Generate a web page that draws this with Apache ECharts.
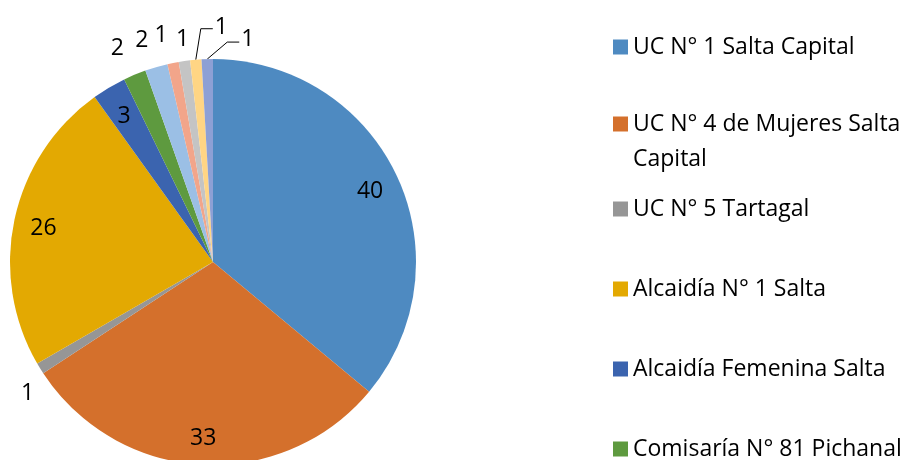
<!DOCTYPE html>
<html>
<head>
    <meta charset="UTF-8">
    <title></title>
    <style>
        html, body { margin: 0; padding: 0; background: #fff; }
        #container { width: 905px; height: 460px; }
    </style>
</head>
<body>
    <div id="container"></div>
    <script src="https://cdn.jsdelivr.net/npm/echarts@6/dist/echarts.min.js"></script>
    <script>
        // datos del gráfico
        var names = [
            'UC N° 1 Salta Capital',
            'UC N° 4 de Mujeres Salta Capital',
            'UC N° 5 Tartagal',
            'Alcaidía N° 1 Salta',
            'Alcaidía Femenina Salta',
            'Comisaría N° 81 Pichanal',
            'Otra dependencia 1',
            'Otra dependencia 2',
            'Otra dependencia 3',
            'Otra dependencia 4',
            'Otra dependencia 5'
        ];
        var values = [40, 33, 1, 26, 3, 2, 2, 1, 1, 1, 1];
        var colors = ['#4e8ac1', '#d4702c', '#969696', '#e3a902', '#3b64af', '#5e9a3f',
                      '#9bbfe5', '#f2a58a', '#c4c4c4', '#ffd584', '#8da0d5'];
        var insideIdx = [0, 1, 3, 4];     // etiquetas dentro del sector
        var lineIdx = [9, 10];            // etiquetas con línea guía
        var legendNames = names.slice(0, 6);
        var legendTops = [33, 71.5, 195, 275, 355, 435];

        var font = '"Open Sans", "Noto Sans", sans-serif';
        var myChart = echarts.init(document.getElementById('container'));

        // ajustes de posición de algunas etiquetas exteriores
        var lineLen = { 2: [47, -34], 8: [22, -8] };

        var outerData = names.map(function (n, i) {
            var showLabel = insideIdx.indexOf(i) < 0;
            var ll = { show: lineIdx.indexOf(i) >= 0 };
            if (lineLen[i]) {
                ll.length = lineLen[i][0];
                ll.length2 = lineLen[i][1];
            }
            return {
                name: n,
                value: values[i],
                itemStyle: { color: colors[i] },
                label: { show: showLabel },
                labelLine: ll
            };
        });
        var innerData = names.map(function (n, i) {
            return {
                name: n,
                value: values[i],
                label: { show: insideIdx.indexOf(i) >= 0 }
            };
        });

        var legends = legendNames.map(function (n, i) {
            var two = i === 1;
            return {
                orient: 'vertical',
                left: 613,
                top: legendTops[i],
                padding: 0,
                itemWidth: 15,
                itemHeight: 15,
                icon: 'rect',
                selectedMode: false,
                data: [n],
                formatter: function (name) {
                    // linea vacía arriba para que el icono quede junto a la primera línea
                    return two ? ' \nUC N° 4 de Mujeres Salta\nCapital' : name;
                },
                textStyle: {
                    fontFamily: font, fontSize: 23, color: '#000',
                    lineHeight: two ? 35 : 28
                }
            };
        });

        myChart.setOption({
            animation: false,
            legend: legends,
            series: [
                {
                    type: 'pie',
                    center: [213, 262],
                    radius: 203,
                    startAngle: 90,
                    clockwise: true,
                    avoidLabelOverlap: false,
                    itemStyle: { borderWidth: 0 },
                    label: {
                        position: 'outside',
                        formatter: '{c}',
                        fontFamily: font,
                        fontSize: 23,
                        color: '#000',
                        distanceToLabelLine: 0
                    },
                    labelLine: {
                        length: 28,
                        length2: 0,
                        lineStyle: { color: '#000', width: 1 }
                    },
                    labelLayout: function (p) {
                        var k = lineIdx.indexOf(p.dataIndex);
                        if (k < 0 || !p.labelLinePoints) return {};
                        var s = p.labelLinePoints[0];
                        var ex = s[0] + (k ? 20 : 5);
                        var ey = s[1] - (k ? 17 : 31);
                        return {
                            x: ex + 14,
                            y: ey - (k ? 3 : 1),
                            align: 'left',
                            verticalAlign: 'middle',
                            labelLinePoints: [s, [ex, ey], [ex + 12, ey]]
                        };
                    },
                    data: outerData
                },
                {
                    type: 'pie',
                    center: [213, 262],
                    radius: [138, 203],
                    startAngle: 90,
                    clockwise: true,
                    silent: true,
                    avoidLabelOverlap: false,
                    itemStyle: { color: 'rgba(0,0,0,0)', borderWidth: 0 },
                    label: {
                        position: 'inside',
                        formatter: '{c}',
                        fontFamily: font,
                        fontSize: 23,
                        color: '#000',
                        offset: [0, 3]
                    },
                    labelLine: { show: false },
                    data: innerData
                }
            ]
        });
    </script>
</body>
</html>
